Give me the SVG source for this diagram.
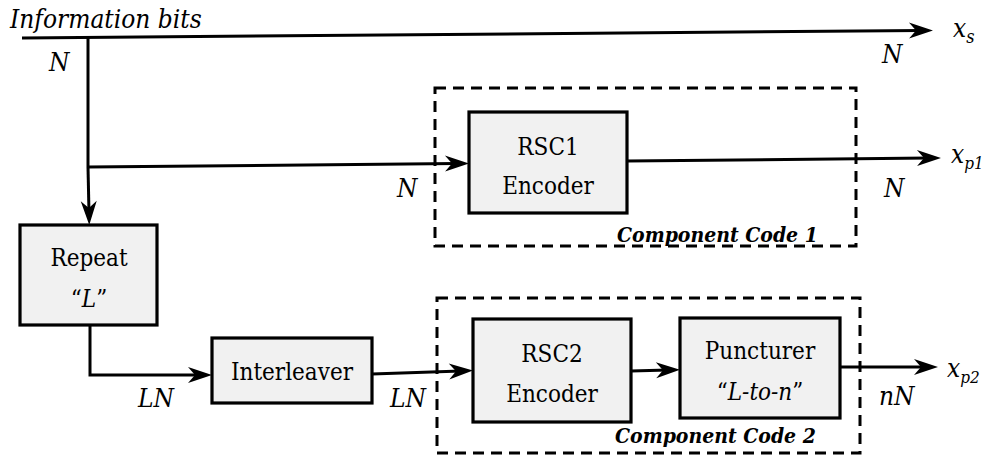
<svg xmlns="http://www.w3.org/2000/svg" width="983" height="459" viewBox="0 0 983 459">
  <style>
    .box { fill: #f1f1f1; stroke: #000; stroke-width: 3.2; }
    .frame { fill: none; stroke: #000; stroke-width: 3; stroke-dasharray: 11 7; }
    .wire { fill: none; stroke: #000; stroke-width: 3; }
    .arrow { marker-end: url(#head); }
    text { font-family: 'DejaVu Serif', serif; font-stretch: condensed; fill: #000; }
    .lbl { font-size: 24px; text-anchor: middle; }
    .it { font-style: italic; font-size: 26px; }
    .cc { font-style: italic; font-weight: bold; font-size: 21px; }
  </style>
  <defs>
    <!-- barbed arrowhead; its tip sits 12px beyond the line end -->
    <marker id="head" markerUnits="userSpaceOnUse" viewBox="-14 -9 28 18" markerWidth="28" markerHeight="18" refX="0" refY="0" orient="auto">
      <path d="M12,0 L-12,-8 L-5,0 L-12,8 Z" fill="#000"/>
    </marker>
  </defs>

  <rect width="983" height="459" fill="#fff"/>

  <!-- component code frames -->
  <g id="component-code-1">
    <rect class="frame" x="435" y="88" width="421" height="158"/>
    <text class="cc" x="617" y="242">Component Code 1</text>
  </g>
  <g id="component-code-2">
    <rect class="frame" x="437" y="298" width="423" height="155"/>
    <text class="cc" x="615" y="443">Component Code 2</text>
  </g>

  <!-- connectors -->
  <g id="connectors">
    <path class="wire arrow" d="M22,38 L921,30.5"/>
    <path class="wire" d="M88,38 L88,167"/>
    <path class="wire arrow" d="M88,167 L89,213"/>
    <path class="wire arrow" d="M88,167 L457,163.5"/>
    <path class="wire arrow" d="M627,161 L929,158"/>
    <path class="wire arrow" d="M90,325 L90,375 L200,375"/>
    <path class="wire arrow" d="M372,374 L461,371"/>
    <path class="wire arrow" d="M631,371 L668,370"/>
    <path class="wire arrow" d="M840,367 L926,367"/>
  </g>

  <!-- blocks -->
  <g id="rsc1">
    <rect class="box" x="469" y="112" width="158" height="101"/>
    <text class="lbl" x="548" y="155">RSC1</text>
    <text class="lbl" x="548" y="194">Encoder</text>
  </g>
  <g id="repeat">
    <rect class="box" x="20" y="225" width="137" height="100"/>
    <text class="lbl" x="89" y="266">Repeat</text>
    <text class="lbl" x="89" y="307">“<tspan font-style="italic">L</tspan>”</text>
  </g>
  <g id="interleaver">
    <rect class="box" x="212" y="338" width="160" height="65"/>
    <text class="lbl" x="292" y="380">Interleaver</text>
  </g>
  <g id="rsc2">
    <rect class="box" x="473" y="319" width="158" height="103"/>
    <text class="lbl" x="552" y="362">RSC2</text>
    <text class="lbl" x="552" y="402">Encoder</text>
  </g>
  <g id="puncturer">
    <rect class="box" x="680" y="318" width="160" height="100"/>
    <text class="lbl" x="760" y="359">Puncturer</text>
    <text class="lbl" x="760" y="400">“<tspan font-style="italic">L-to-n</tspan>”</text>
  </g>

  <!-- signal names and sizes -->
  <g id="labels">
    <text class="it" x="10" y="28" font-size="21.5">Information bits</text>
    <text class="it" x="49" y="71">N</text>
    <text class="it" x="882" y="63">N</text>
    <text class="it" x="397" y="197">N</text>
    <text class="it" x="884" y="197">N</text>
    <text class="it" x="138" y="407">LN</text>
    <text class="it" x="390" y="407">LN</text>
    <text class="it" x="879" y="405">nN</text>
    <text class="it" x="953" y="37" font-size="26">x<tspan font-size="18" dy="6">s</tspan></text>
    <text class="it" x="951" y="163" font-size="24">x<tspan font-size="17" dy="6">p1</tspan></text>
    <text class="it" x="947" y="377" font-size="25">x<tspan font-size="17" dy="6">p2</tspan></text>
  </g>
</svg>
